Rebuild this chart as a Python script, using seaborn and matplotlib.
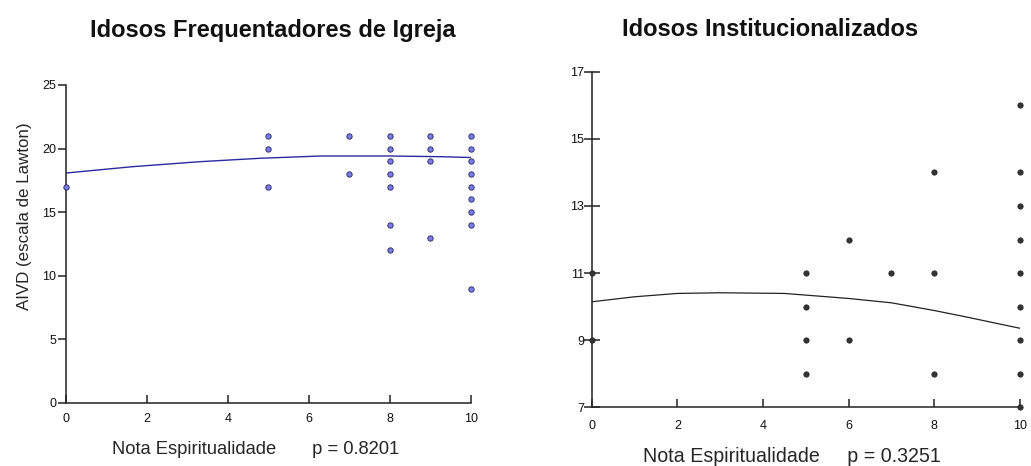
import numpy as np
import pandas as pd
import seaborn as sns
import matplotlib
matplotlib.use("Agg")
import matplotlib.pyplot as plt

# Idosos frequentadores de igreja (nota espiritualidade x AIVD)
igreja_x = [0, 5, 5, 5, 7, 7, 8, 8, 8, 8, 8, 8, 8, 9, 9, 9, 9,
            10, 10, 10, 10, 10, 10, 10, 10, 10]
igreja_y = [17, 21, 20, 17, 21, 18, 21, 20, 19, 18, 17, 14, 12, 21, 20, 19, 13,
            21, 20, 19, 18, 17, 16, 15, 14, 9]
igreja_fit_x = [0, 1.65, 3.3, 4.8, 6.3, 8, 9.3, 10]
igreja_fit_y = [18.08, 18.58, 18.97, 19.24, 19.42, 19.42, 19.36, 19.3]

# Idosos institucionalizados
inst_x = [0, 0, 5, 5, 5, 5, 6, 6, 7, 8, 8, 8,
          10, 10, 10, 10, 10, 10, 10, 10, 10]
inst_y = [11, 9, 11, 10, 9, 8, 12, 9, 11, 14, 11, 8,
          16, 14, 13, 12, 11, 10, 9, 8, 7]
inst_fit_x = [0, 1, 2, 3, 4.5, 5, 6, 7, 8, 8.7, 10]
inst_fit_y = [10.14, 10.29, 10.39, 10.41, 10.39, 10.34, 10.24, 10.11, 9.88, 9.7, 9.35]

sns.set_style("white")
plt.rcParams['font.family'] = ['Liberation Sans', 'DejaVu Sans']
plt.rcParams['text.color'] = '#111111'

fig = plt.figure(figsize=(10.31, 4.66), dpi=100)
ax1 = fig.add_axes([0.064, 0.1352, 0.3928, 0.6824])
ax2 = fig.add_axes([0.5739, 0.1266, 0.4154, 0.7189])

df1 = pd.DataFrame({'x': igreja_x, 'y': igreja_y})
df1_fit = pd.DataFrame({'x': igreja_fit_x, 'y': igreja_fit_y})
df2 = pd.DataFrame({'x': inst_x, 'y': inst_y})
df2_fit = pd.DataFrame({'x': inst_fit_x, 'y': inst_fit_y})

sns.lineplot(data=df1_fit, x='x', y='y', ax=ax1, color='#2a2aa0', lw=1.0)
sns.scatterplot(data=df1, x='x', y='y', ax=ax1, s=15, color='#7b7be6',
                edgecolor='#222266', linewidth=0.6, clip_on=False, zorder=3)

sns.lineplot(data=df2_fit, x='x', y='y', ax=ax2, color='#222222', lw=0.9)
sns.scatterplot(data=df2, x='x', y='y', ax=ax2, s=15, color='#333333',
                edgecolor='#222222', linewidth=0.5, clip_on=False, zorder=3)

ax1.set_xlim(0, 10)
ax1.set_ylim(0, 25)
ax1.set_xticks([0, 2, 4, 6, 8, 10])
ax1.set_yticks([0, 5, 10, 15, 20, 25])
ax2.set_xlim(0, 10)
ax2.set_ylim(7, 17)
ax2.set_xticks([0, 2, 4, 6, 8, 10])
ax2.set_yticks([7, 9, 11, 13, 15, 17])

for ax in (ax1, ax2):
    sns.despine(ax=ax)
    for s in ('left', 'bottom'):
        ax.spines[s].set_color('#222222')
        ax.spines[s].set_linewidth(1.1)
    ax.tick_params(colors='#222222', labelcolor='#111111', labelsize=9,
                   width=1.1, bottom=True, left=True)
    ax.tick_params(axis='x', direction='in', length=6, pad=7)
    ax.set_xlabel('')
    ax.set_ylabel('')

ax1.tick_params(axis='y', direction='out', length=6, pad=1)
ax2.tick_params(axis='y', direction='inout', length=11, pad=0)
ax2.tick_params(axis='x', pad=9)

ax1.set_ylabel('AIVD (escala de Lawton)', fontsize=12.2)
ax1.yaxis.set_label_coords(-0.083, 0.588)
ax1.set_xlabel('Nota Espiritualidade       p = 0.8201', fontsize=13.2)
ax1.xaxis.set_label_coords(0.467, -0.12)
ax2.set_xlabel('Nota Espiritualidade     p = 0.3251', fontsize=14.1)
ax2.xaxis.set_label_coords(0.4665, -0.119)

fig.text(273 / 1031, 1 - 30 / 466, 'Idosos Frequentadores de Igreja',
         ha='center', va='center', fontsize=17, fontweight='bold')
fig.text(770 / 1031, 1 - 30 / 466, 'Idosos Institucionalizados',
         ha='center', va='center', fontsize=17, fontweight='bold')

fig.savefig('out.png', dpi=100)
